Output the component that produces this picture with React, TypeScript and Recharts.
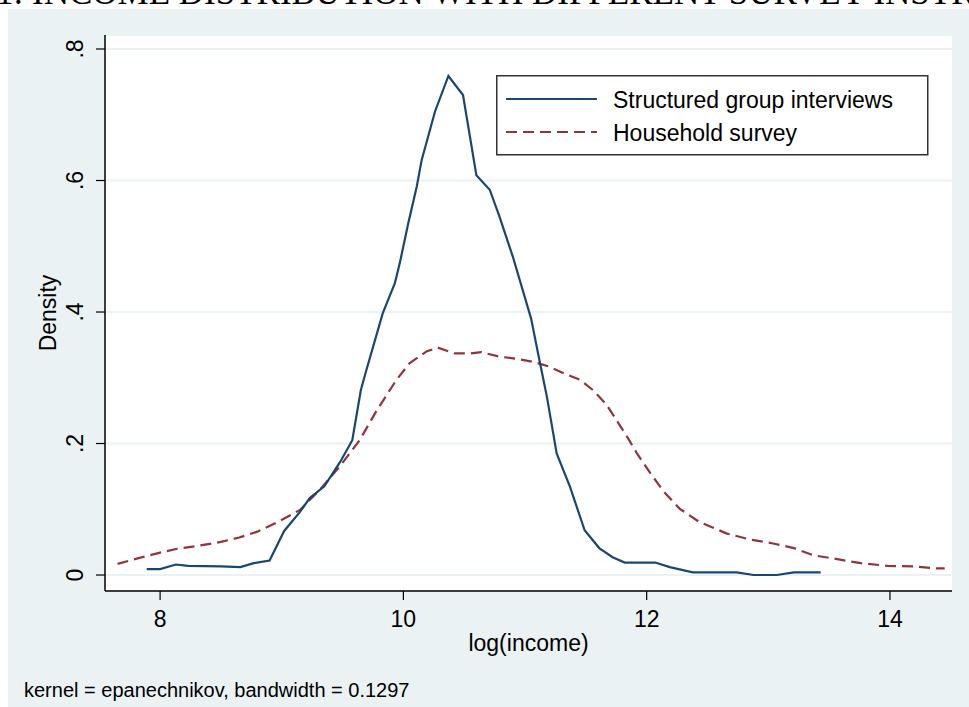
import React from "react";
import { LineChart, Line, XAxis, YAxis, CartesianGrid, Legend } from "recharts";

// log(income) grid and kernel density
const sgiX = [7.89, 8.0, 8.13, 8.23, 8.5, 8.66, 8.77, 8.9, 9.02, 9.15, 9.23, 9.35, 9.48, 9.58, 9.65, 9.69, 9.83, 9.93, 9.97, 10.04, 10.11, 10.15, 10.26, 10.37, 10.49, 10.6, 10.71, 10.79, 10.9, 11.05, 11.12, 11.18, 11.26, 11.37, 11.49, 11.61, 11.72, 11.82, 12.07, 12.19, 12.38, 12.74, 12.88, 13.07, 13.21, 13.43];
const sgiDensity = [0.009, 0.009, 0.016, 0.014, 0.013, 0.012, 0.018, 0.022, 0.067, 0.096, 0.117, 0.135, 0.172, 0.205, 0.281, 0.308, 0.398, 0.444, 0.474, 0.535, 0.591, 0.631, 0.705, 0.759, 0.73, 0.608, 0.586, 0.545, 0.484, 0.39, 0.325, 0.271, 0.185, 0.134, 0.068, 0.041, 0.027, 0.019, 0.019, 0.012, 0.004, 0.004, 0.0, 0.0, 0.004, 0.004];

const hsX = [7.65, 7.83, 8.0, 8.14, 8.3, 8.49, 8.65, 8.8, 8.95, 9.15, 9.31, 9.48, 9.64, 9.78, 9.94, 10.05, 10.19, 10.28, 10.42, 10.55, 10.64, 10.79, 10.93, 11.07, 11.2, 11.29, 11.45, 11.56, 11.67, 11.75, 11.84, 11.92, 12.03, 12.14, 12.27, 12.43, 12.66, 12.85, 13.04, 13.21, 13.37, 13.54, 13.76, 13.98, 14.19, 14.39, 14.45];
const hsDensity = [0.017, 0.026, 0.034, 0.04, 0.044, 0.05, 0.057, 0.066, 0.079, 0.099, 0.129, 0.166, 0.205, 0.25, 0.296, 0.322, 0.34, 0.346, 0.337, 0.337, 0.339, 0.332, 0.329, 0.324, 0.317, 0.309, 0.297, 0.281, 0.259, 0.236, 0.21, 0.185, 0.155, 0.127, 0.101, 0.081, 0.063, 0.054, 0.048, 0.041, 0.03, 0.025, 0.018, 0.014, 0.013, 0.01, 0.01];

const xTicks = [8, 10, 12, 14];
const yTicks = [0, 0.2, 0.4, 0.6, 0.8];
const yTickLabels = ["0", ".2", ".4", ".6", ".8"];

const seriesNames = ["Structured group interviews", "Household survey"];

const sgiData = sgiX.map((x, i) => ({ x, d: sgiDensity[i] }));
const hsData = hsX.map((x, i) => ({ x, d: hsDensity[i] }));

const BLUE = "#1A476F";
const RED = "#90353B";
const BG = "#EAF2F3";
const FONT = "'Liberation Sans', Arial, sans-serif";

function YTick(props: any) {
  const { x, y, payload } = props;
  const i = yTicks.indexOf(payload.value);
  return (
    <text
      x={x}
      y={y}
      transform={`rotate(-90 ${x} ${y})`}
      textAnchor="middle"
      fontSize={23}
      fontFamily={FONT}
      fill="#000"
    >
      {i >= 0 ? yTickLabels[i] : payload.value}
    </text>
  );
}

function DensityLabel() {
  return (
    <text
      x={56}
      y={313}
      transform="rotate(-90 56 313)"
      textAnchor="middle"
      fontSize={23}
      fontFamily={FONT}
      fill="#000"
    >
      Density
    </text>
  );
}

function LegendBox() {
  return (
    <svg width={433} height={81} style={{ display: "block" }}>
      <rect x={0.75} y={0.75} width={431} height={79} fill="#fff" stroke="#333" strokeWidth={1.5} />
      <line x1={10} x2={101} y1={24} y2={24} stroke={BLUE} strokeWidth={2.2} />
      <line x1={10} x2={101} y1={57} y2={57} stroke={RED} strokeWidth={2.2} strokeDasharray="11 6" />
      <text x={117} y={33} fontSize={23} fontFamily={FONT} fill="#000">{seriesNames[0]}</text>
      <text x={117} y={66} fontSize={23} fontFamily={FONT} fill="#000">{seriesNames[1]}</text>
    </svg>
  );
}

export default function App() {
  return (
    <div style={{ position: "absolute", left: 0, top: 0, width: 969, height: 707, overflow: "hidden", background: "#fff" }}>
      <div
        style={{
          position: "absolute",
          left: -4,
          top: -25,
          whiteSpace: "nowrap",
          fontFamily: "'Liberation Serif', 'Times New Roman', serif",
          fontSize: 35,
          lineHeight: "35px",
          color: "#000",
        }}
      >
        1: INCOME DISTRIBUTION WITH DIFFERENT SURVEY INSTRUMENTS
      </div>
      <div style={{ position: "absolute", left: 8, top: 9, right: 0, bottom: 0, background: BG }} />
      <div style={{ position: "absolute", left: 0, top: 0 }}>
        <LineChart width={969} height={707} margin={{ top: 35, right: 17, bottom: 76, left: 45 }}>
          <CartesianGrid vertical={false} stroke={BG} strokeWidth={2} fill="#fff" />
          <XAxis
            dataKey="x"
            type="number"
            domain={[7.547, 14.51]}
            ticks={xTicks}
            allowDataOverflow
            height={40}
            tickSize={9}
            tickMargin={11}
            axisLine={{ stroke: "#000", strokeWidth: 1.5 }}
            tickLine={{ stroke: "#000", strokeWidth: 1.2 }}
            tick={{ fontSize: 23, fill: "#000", fontFamily: FONT }}
            label={{ value: "log(income)", position: "bottom", offset: 4, fontSize: 23, fill: "#000", fontFamily: FONT }}
          />
          <YAxis
            type="number"
            domain={[-0.0243, 0.8213]}
            ticks={yTicks}
            allowDataOverflow
            width={60}
            tickSize={9}
            tickMargin={13}
            axisLine={{ stroke: "#000", strokeWidth: 1.5 }}
            tickLine={{ stroke: "#000", strokeWidth: 1.2 }}
            tick={<YTick />}
            label={<DensityLabel />}
          />
          <Legend
            layout="horizontal"
            verticalAlign="middle"
            content={<LegendBox />}
            wrapperStyle={{ position: "absolute", left: 496, top: 75, width: 433, height: 81, bottom: "auto" }}
          />
          <Line
            data={hsData}
            dataKey="d"
            name={seriesNames[1]}
            type="linear"
            stroke={RED}
            strokeWidth={2.2}
            strokeDasharray="11 6"
            dot={false}
            activeDot={false}
            isAnimationActive={false}
          />
          <Line
            data={sgiData}
            dataKey="d"
            name={seriesNames[0]}
            type="linear"
            stroke={BLUE}
            strokeWidth={2.2}
            dot={false}
            activeDot={false}
            isAnimationActive={false}
          />
        </LineChart>
      </div>
      <div
        style={{
          position: "absolute",
          left: 24,
          top: 680,
          fontFamily: FONT,
          fontSize: 20,
          lineHeight: "20px",
          color: "#000",
          whiteSpace: "nowrap",
        }}
      >
        kernel = epanechnikov, bandwidth = 0.1297
      </div>
    </div>
  );
}
